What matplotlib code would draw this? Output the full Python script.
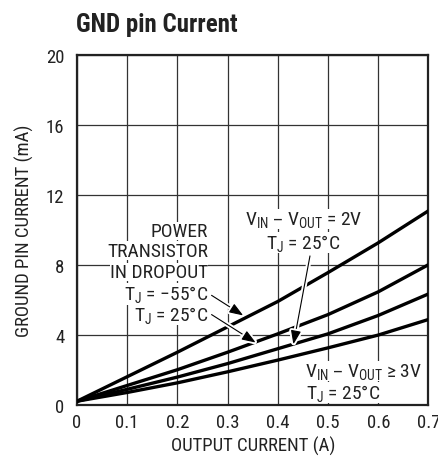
import matplotlib
matplotlib.use('Agg')
import matplotlib.pyplot as plt
import matplotlib.patheffects as pe

# output current (A) and ground pin current (mA)
output_current = [0.0, 0.1, 0.2, 0.3, 0.4, 0.5, 0.6, 0.7]
dropout_m55 = [0.2, 1.6, 3.0, 4.45, 5.9, 7.55, 9.25, 11.08]
dropout_25 = [0.2, 1.1, 2.0, 3.0, 4.05, 5.15, 6.45, 8.0]
vin_2v = [0.2, 0.88, 1.58, 2.35, 3.2, 4.05, 5.1, 6.33]
vin_3v = [0.2, 0.7, 1.25, 1.88, 2.55, 3.25, 3.98, 4.87]

x_ticks = [0, 0.1, 0.2, 0.3, 0.4, 0.5, 0.6, 0.7]
x_tick_labels = ['0', '0.1', '0.2', '0.3', '0.4', '0.5', '0.6', '0.7']
y_ticks = [0, 4, 8, 12, 16, 20]

plt.rcParams['font.family'] = ['Roboto Condensed', 'DejaVu Sans']
plt.rcParams['mathtext.default'] = 'regular'

fig = plt.figure(figsize=(4.39, 4.6), dpi=100)
ax = fig.add_axes([0.1754, 0.118, 0.8006, 0.761])

for s in [dropout_m55, dropout_25, vin_2v, vin_3v]:
    ax.plot(output_current, s, color='black', lw=2.4, solid_joinstyle='round', zorder=3)

ax.set_xlim(0, 0.7)
ax.set_ylim(0, 20)
ax.set_xticks(x_ticks)
ax.set_xticklabels(x_tick_labels)
ax.set_yticks(y_ticks)
ax.tick_params(length=0, labelsize=13.5, colors='#222222')
ax.tick_params(axis='x', pad=6)
ax.tick_params(axis='y', pad=9)
ax.grid(True, color='#333333', lw=0.9, zorder=1)
for sp in ax.spines.values():
    sp.set_linewidth(1.6)
    sp.set_color('#222222')

ax.set_xlabel('OUTPUT CURRENT (A)', fontsize=13.5, color='#222222', va='center')
ax.set_ylabel('GROUND PIN CURRENT (mA)', fontsize=13.5, color='#222222')
ax.xaxis.set_label_coords(0.5, -0.115)
ax.yaxis.set_label_coords(-0.123, 0.5)
fig.text(0.172, 0.946, 'GND pin Current', fontsize=18, fontweight='bold', color='#222222', va='center')

bb = dict(facecolor='white', edgecolor='none', pad=0.2)
txt = dict(fontsize=14, color='#222222', zorder=4)

ax.text(0.261, 9.94, 'POWER', ha='right', va='center', bbox=bb, **txt)
ax.text(0.261, 8.8, 'TRANSISTOR', ha='right', va='center', bbox=bb, **txt)
ax.text(0.261, 7.6, 'IN DROPOUT', ha='right', va='center', bbox=bb, **txt)
ax.text(0.261, 6.33, r'T$_J$ = −55°C', ha='right', va='center', bbox=bb, **txt)
ax.text(0.261, 5.18, r'T$_J$ = 25°C', ha='right', va='center', bbox=bb, **txt)

ax.text(0.451, 10.61, r'V$_{IN}$ – V$_{OUT}$ = 2V', ha='center', va='center', bbox=bb, **txt)
ax.text(0.451, 9.28, r'T$_J$ = 25°C', ha='center', va='center', bbox=bb, **txt)

ax.text(0.454, 1.94, r'V$_{IN}$ – V$_{OUT}$ ≥ 3V', ha='left', va='center', bbox=bb, **txt)
ax.text(0.456, 0.71, r'T$_J$ = 25°C', ha='left', va='center', bbox=bb, **txt)

arrow = dict(arrowstyle='-|>,head_length=0.6,head_width=0.22', color='black', lw=0.8,
             mutation_scale=14, shrinkA=0, shrinkB=0,
             path_effects=[pe.withStroke(linewidth=3.5, foreground='white')])
ax.annotate('', xy=(0.331, 5.1), xytext=(0.268, 6.25), arrowprops=arrow, zorder=5)
ax.annotate('', xy=(0.356, 3.55), xytext=(0.268, 5.15), arrowprops=arrow, zorder=5)
ax.annotate('', xy=(0.431, 3.45), xytext=(0.464, 8.5), arrowprops=arrow, zorder=5)

fig.savefig('out.png', dpi=100)
